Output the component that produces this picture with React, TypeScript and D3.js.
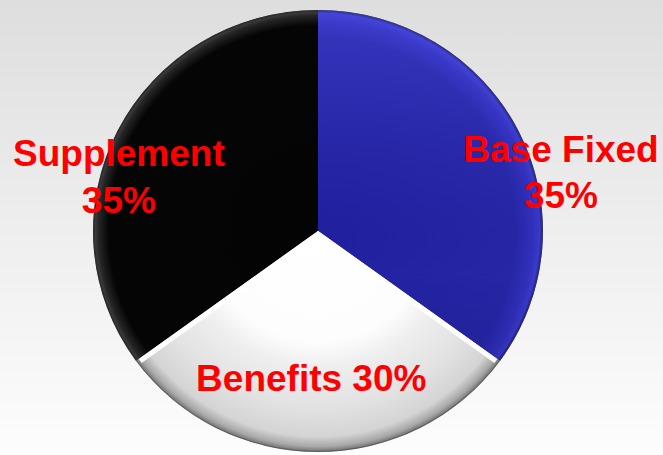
import React from "react";
import * as d3 from "d3";

const categories = ["Base Fixed", "Benefits", "Supplement"];
const values = [35, 30, 35];
const labelLines = [["Base Fixed", "35%"], ["Benefits 30%"], ["Supplement", "35%"]];

const W = 663;
const H = 455;
const CX = 318;
const CY = 231;
const RX = 225;
const RY = 221;

// label anchors (layout), relative to pie center in units of radii
const labelLayout = [
  { dx: 1.08, dy: -0.31, lineGap: 46 },
  { dx: -0.03, dy: 0.725, lineGap: 0 },
  { dx: -0.885, dy: -0.294, lineGap: 47 },
];

const gradIds = ["gBlue", "gWhite", "gBlack"];

export default function App() {
  const pie = d3.pie<number>().sort(null).value((d) => d);
  const arcs = pie(values);
  const arc = d3.arc<d3.PieArcDatum<number>>().innerRadius(0).outerRadius(RX);

  return (
    <svg
      width={W}
      height={H}
      style={{ position: "absolute", left: 0, top: 0, display: "block" }}
    >
      <defs>
        <linearGradient id="bg" x1="0" y1="0" x2="0" y2="1">
          <stop offset="0" stopColor="#dedede" />
          <stop offset="0.5" stopColor="#eeeeee" />
          <stop offset="1" stopColor="#fdfdfd" />
        </linearGradient>
        <radialGradient id="gBlue" gradientUnits="userSpaceOnUse" cx={0} cy={0} r={RX}>
          <stop offset="0" stopColor="#2020a0" />
          <stop offset="0.88" stopColor="#2626a6" />
          <stop offset="0.955" stopColor="#3030bc" />
          <stop offset="0.985" stopColor="#3a3acc" />
          <stop offset="1" stopColor="#1a1a70" />
        </radialGradient>
        <radialGradient id="gBlack" gradientUnits="userSpaceOnUse" cx={0} cy={0} r={RX}>
          <stop offset="0" stopColor="#040404" />
          <stop offset="0.93" stopColor="#050505" />
          <stop offset="0.975" stopColor="#252525" />
          <stop offset="0.99" stopColor="#3a3a3a" />
          <stop offset="1" stopColor="#151515" />
        </radialGradient>
        <radialGradient id="gWhite" gradientUnits="userSpaceOnUse" cx={0} cy={0} r={RX}>
          <stop offset="0" stopColor="#ffffff" />
          <stop offset="0.5" stopColor="#fdfdfd" />
          <stop offset="0.62" stopColor="#eeeeee" />
          <stop offset="0.8" stopColor="#e2e2e2" />
          <stop offset="0.93" stopColor="#d4d4d4" />
          <stop offset="0.975" stopColor="#a8a8a8" />
          <stop offset="1" stopColor="#6e6e6e" />
        </radialGradient>
        <linearGradient id="blueShine" gradientUnits="userSpaceOnUse" x1="0" y1={-RX} x2="0" y2={RX}>
          <stop offset="0" stopColor="#6060ff" stopOpacity="0.28" />
          <stop offset="0.3" stopColor="#6060ff" stopOpacity="0.06" />
          <stop offset="0.6" stopColor="#000040" stopOpacity="0" />
          <stop offset="1" stopColor="#000030" stopOpacity="0.25" />
        </linearGradient>
        <clipPath id="whiteClip">
          <path
            transform={`translate(${CX},${CY}) scale(1,${RY / RX})`}
            d={arc(arcs[1]) || ""}
          />
        </clipPath>
      </defs>
      <rect x={0} y={0} width={W} height={H} fill="url(#bg)" />
      <g transform={`translate(${CX},${CY}) scale(1,${RY / RX})`}>
        {arcs.map((a, i) => (
          <path key={categories[i]} d={arc(a) || ""} fill={`url(#${gradIds[i]})`} />
        ))}
        <path d={arc(arcs[0]) || ""} fill="url(#blueShine)" />
      </g>
      {/* bevel highlight along the radial edges of the white slice */}
      <g clipPath="url(#whiteClip)">
        <g transform={`translate(${CX},${CY}) scale(1,${RY / RX})`}>
          {[arcs[1].startAngle, arcs[1].endAngle].map((ang, k) => {
            const ux = Math.sin(ang);
            const uy = -Math.cos(ang);
            return (
              <line
                key={k}
                x1={0}
                y1={0}
                x2={ux * RX * 0.985}
                y2={uy * RX * 0.985}
                stroke="#ffffff"
                strokeWidth={10}
                strokeOpacity={0.95}
              />
            );
          })}
        </g>
      </g>
      <g transform={`translate(${CX},${CY}) scale(1,${RY / RX})`}>
        <circle r={RX - 0.5} fill="none" stroke="#404040" strokeWidth={1} strokeOpacity={0.5} />
      </g>
      {labelLines.map((lines, i) => {
        const L = labelLayout[i];
        const x = CX + L.dx * RX;
        const y = CY + L.dy * RY;
        return (
          <text
            key={categories[i]}
            x={x}
            y={y}
            textAnchor="middle"
            fill="#ff0000"
            fontFamily="'Liberation Sans', Arial, sans-serif"
            fontWeight="bold"
            fontSize={37}
          >
            {lines.map((t, j) => (
              <tspan key={j} x={x} dy={j === 0 ? 0 : L.lineGap}>
                {t}
              </tspan>
            ))}
          </text>
        );
      })}
    </svg>
  );
}
